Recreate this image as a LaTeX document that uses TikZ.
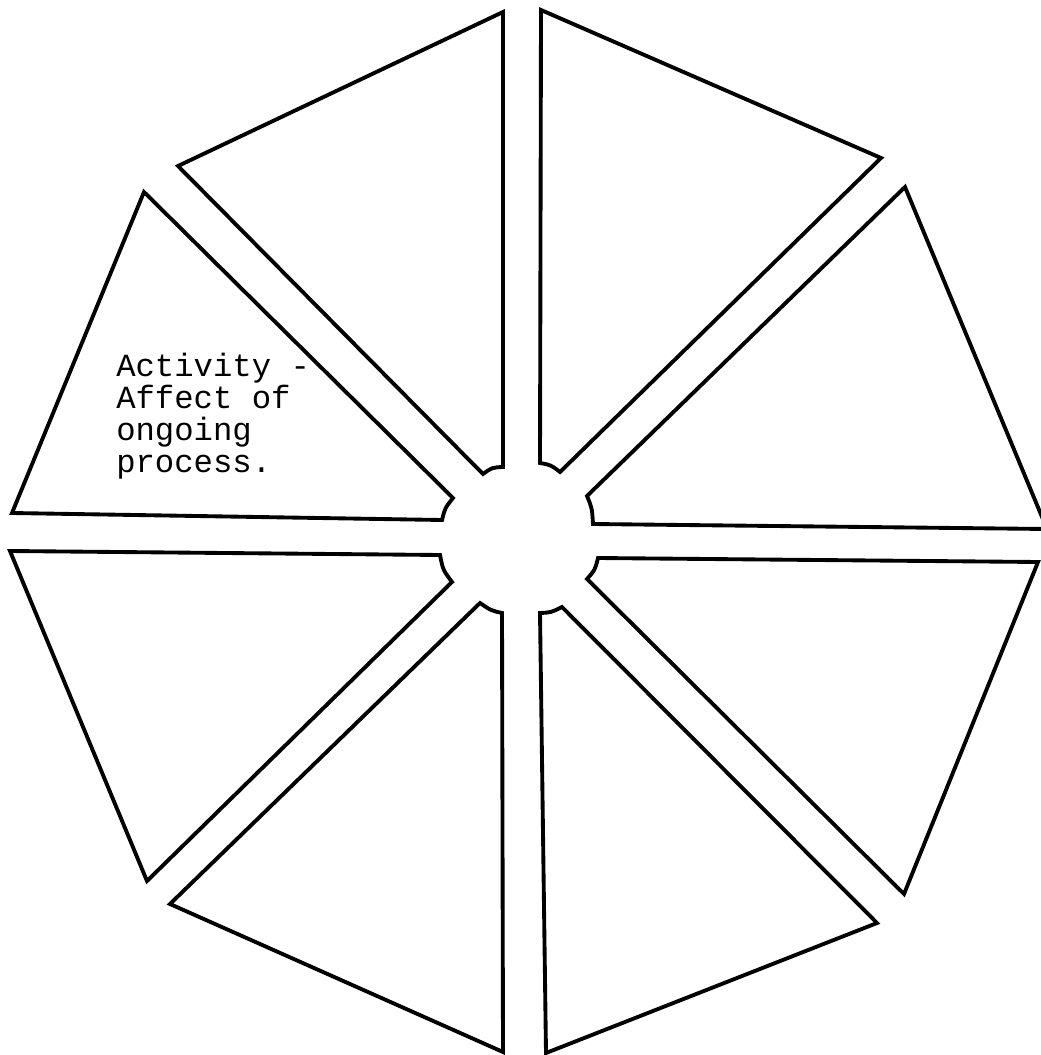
\documentclass[tikz,border=0pt]{standalone}
\usepackage{fontspec}
\newfontfamily\typewriter{Liberation Mono}
\begin{document}
\begin{tikzpicture}[x=0.75pt,y=-0.75pt,
  seg/.style={draw=black,line width=2.9pt,line join=miter,fill=white},
  notetext/.style={inner sep=0pt,align=left,font=\typewriter\fontsize{24.2}{23.8}\selectfont}]
\useasboundingbox[fill=white] (0,0) rectangle (1040,1055);
\coordinate (c) at (521,537);
% top-left segment
\draw[seg] (503,12) -- (178,166) -- (483,474) .. controls (492,467.5) .. (503,467) -- cycle;
% top-right segment
\draw[seg] (541,10) -- (540,463) .. controls (551,465) .. (560,472) -- (881,158) -- cycle;
% right-upper segment
\draw[seg] (905,187) -- (587,496) .. controls (592,508) .. (593,524) -- (1047,529) -- cycle;
% right-lower segment
\draw[seg] (598,558) -- (1038,562) -- (904,894) -- (587,579) .. controls (595,570) .. (598,558) -- cycle;
% bottom-right segment
\draw[seg] (562,607) -- (877,923) -- (546,1053) -- (540,613) .. controls (551,612.5) .. (562,607) -- cycle;
% bottom-left segment
\draw[seg] (502,613) -- (503,1052) -- (170,904) -- (480,603) .. controls (491,610.5) .. (502,613) -- cycle;
% left-lower segment
\draw[seg] (440,555) -- (10,551) -- (147,881) -- (452,582) .. controls (443,570) .. (440,555) -- cycle;
% left-upper segment
\draw[seg] (144,192) -- (12,513) -- (442,520) .. controls (445,508) .. (453,498) -- cycle;
\node[notetext,anchor=base west] (note) at (116,472) {Activity -\\Affect of\\ongoing\\process.};
\end{tikzpicture}
\end{document}
